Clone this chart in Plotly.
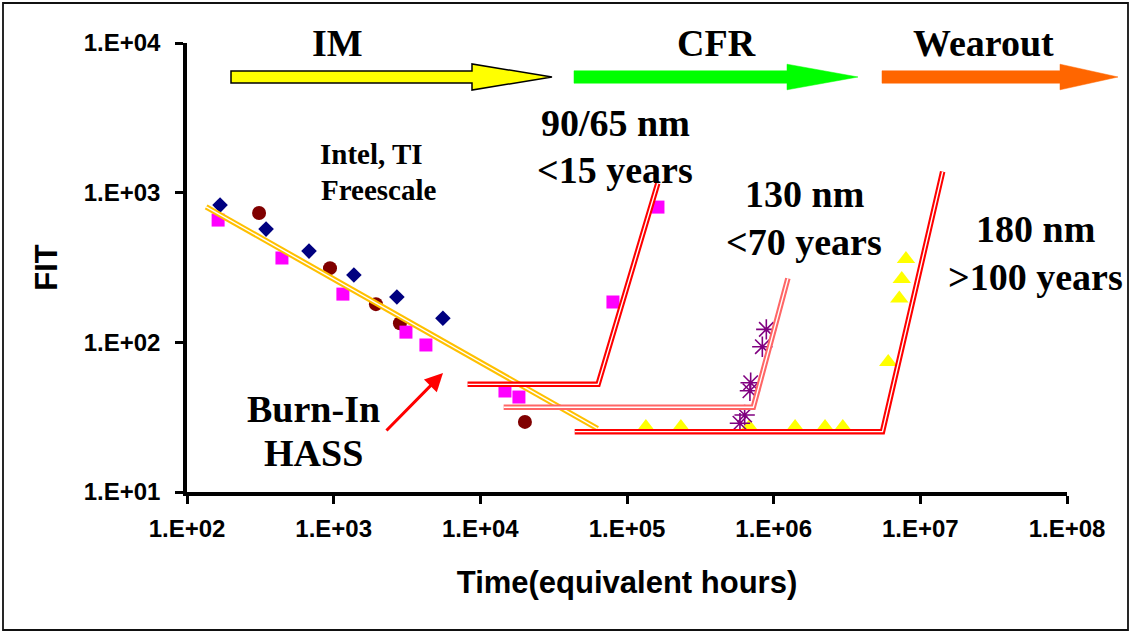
import plotly.graph_objects as go

# ---------------- data ----------------
intel_x = [168, 346, 679, 1374, 2698, 5557]
intel_y = [826, 571, 407, 282, 201, 145]
ti_x = [310, 944, 1941, 2831, 20140]
ti_y = [731, 313, 180, 134, 29.4]
fs_x = [163, 444, 1156, 3111, 4255, 14720, 18330, 80200, 162600]
fs_y = [656, 366, 210, 117, 96, 47.3, 43.1, 186, 801]
n180_x = [134500, 233000, 682000, 1.40e6, 2.24e6, 2.96e6, 6.04e6, 7.19e6, 7.47e6, 7.98e6]
n180_y = [27.2, 27.2, 27.2, 27.2, 27.2, 27.2, 73.8, 196, 265, 360]
n130_x = [891000, 837000, 697000, 689000, 634000, 589000]
n130_y = [122, 93.5, 53.7, 47.5, 32.7, 28.8]

im_fit_x = [135, 63000]
im_fit_y = [805, 26.5]
n90_line_x = [8180, 63500, 162000]
n90_line_y = [52.4, 52.4, 1153]
n130_line_x = [14420, 726000, 1.25e6]
n130_line_y = [36.8, 36.8, 267.6]
n180_line_x = [44000, 5.52e6, 1.42e7]
n180_line_y = [25.3, 25.3, 1380]

x_tickvals = [1e2, 1e3, 1e4, 1e5, 1e6, 1e7, 1e8]
x_ticktext = ["1.E+02", "1.E+03", "1.E+04", "1.E+05", "1.E+06", "1.E+07", "1.E+08"]
y_tickvals = [1e1, 1e2, 1e3, 1e4]
y_ticktext = ["1.E+01", "1.E+02", "1.E+03", "1.E+04"]

# ---------------- layout geometry ----------------
W, H = 1130, 632
ML, MR, MT, MB = 187, 63, 43, 140
PW, PH = W - ML - MR, H - MT - MB


def px(x):
    return (x - ML) / PW


def py(y):
    return (H - MB - y) / PH


SERIF = "Liberation Serif, Times New Roman, serif"
SANS = "Liberation Sans, Arial, sans-serif"

fig = go.Figure()

# markers
fig.add_trace(go.Scatter(x=intel_x, y=intel_y, mode="markers",
                         marker=dict(symbol="diamond", size=12, color="#000080")))
fig.add_trace(go.Scatter(x=ti_x, y=ti_y, mode="markers",
                         marker=dict(symbol="circle", size=14, color="#800000")))
fig.add_trace(go.Scatter(x=fs_x, y=fs_y, mode="markers",
                         marker=dict(symbol="square", size=13, color="#FF00FF")))
fig.add_trace(go.Scatter(x=n180_x, y=n180_y, mode="markers",
                         marker=dict(symbol="triangle-up", size=16, color="#FFFF00")))
fig.add_trace(go.Scatter(x=n130_x, y=n130_y, mode="markers",
                         marker=dict(symbol="asterisk-open", size=17, color="#800080",
                                     line=dict(color="#800080", width=1.6))))


def double_line(xs, ys, color):
    fig.add_trace(go.Scatter(x=xs, y=ys, mode="lines",
                             line=dict(color=color, width=5.5)))
    fig.add_trace(go.Scatter(x=xs, y=ys, mode="lines",
                             line=dict(color="white", width=1.4)))


double_line(im_fit_x, im_fit_y, "#FFC000")
double_line(n90_line_x, n90_line_y, "#FF0000")
double_line(n130_line_x, n130_line_y, "#FF6666")
double_line(n180_line_x, n180_line_y, "#FF0000")

shapes = []


def block_arrow(x0, xb, xt, yc, hs, hh, fill, outline=None):
    pts = [(x0, yc - hs), (xb, yc - hs), (xb, yc - hh), (xt, yc),
           (xb, yc + hh), (xb, yc + hs), (x0, yc + hs)]
    path = "M " + " L ".join(f"{px(a):.5f},{py(b):.5f}" for a, b in pts) + " Z"
    shapes.append(dict(type="path", xref="paper", yref="paper", path=path,
                       fillcolor=fill,
                       line=dict(color=outline if outline else fill,
                                 width=1.5 if outline else 0.5)))


block_arrow(231, 472, 552, 77, 6, 13, "#FFFF00", "#000000")
block_arrow(574, 787, 858, 77, 6.2, 12.8, "#00FF00")
block_arrow(882, 1060, 1118, 77, 6.2, 12.8, "#FF6600")

# outer frame
shapes.append(dict(type="rect", xref="paper", yref="paper",
                   x0=px(3), x1=px(1128), y0=py(630), y1=py(3),
                   line=dict(color="#111111", width=1.8)))

annotations = []


def label(text, cx, cy, size, family=SERIF):
    annotations.append(dict(text=text, xref="paper", yref="paper",
                            x=px(cx), y=py(cy), xanchor="center", yanchor="middle",
                            showarrow=False,
                            font=dict(family=family, size=size, color="black",
                                      weight="bold")))


label("IM", 337, 43, 38)
label("CFR", 716, 43, 38)
label("Wearout", 983, 43, 38)
label("90/65 nm", 615, 123, 38)
label("&lt;15 years", 615, 170, 38)
label("Intel, TI", 371, 154, 29)
label("Freescale", 379, 190, 29)
label("130 nm", 804, 194, 38)
label("&lt;70 years", 804, 242, 38)
label("180 nm", 1035, 229, 38)
label("&gt;100 years", 1035, 277, 38)
label("Burn-In", 313, 409, 38)
label("HASS", 313, 453, 38)

# Burn-In arrow
annotations.append(dict(text="", xref="paper", yref="paper",
                        x=px(443), y=py(373), ax=-58, ay=59,
                        showarrow=True, arrowhead=2, arrowsize=1.2,
                        arrowwidth=3, arrowcolor="#FF0000"))

fig.update_layout(
    width=W, height=H,
    margin=dict(l=ML, r=MR, t=MT, b=MB, autoexpand=False),
    paper_bgcolor="white", plot_bgcolor="white",
    showlegend=False,
    shapes=shapes,
    annotations=annotations,
    xaxis=dict(type="log", range=[2, 8], tickvals=x_tickvals, ticktext=x_ticktext,
               showgrid=False, zeroline=False, showline=True, linecolor="black",
               linewidth=3.5, ticks="outside", ticklen=8, tickwidth=3, tickcolor="black",
               ticklabelstandoff=4,
               tickfont=dict(family=SANS, size=24, color="black", weight="bold"),
               title=dict(text="Time(equivalent hours)", standoff=32,
                          font=dict(family=SANS, size=31, color="black", weight="bold"))),
    yaxis=dict(type="log", range=[1, 4], tickvals=y_tickvals, ticktext=y_ticktext,
               showgrid=False, zeroline=False, showline=True, linecolor="black",
               linewidth=3.5, ticks="outside", ticklen=8, tickwidth=3, tickcolor="black",
               ticklabelstandoff=10,
               tickfont=dict(family=SANS, size=24, color="black", weight="bold"),
               title=dict(text="FIT", standoff=18,
                          font=dict(family=SANS, size=31, color="black", weight="bold"))),
)

fig.write_html("out.html", config={"displayModeBar": False},
               post_script="document.body.style.margin='0px';")
